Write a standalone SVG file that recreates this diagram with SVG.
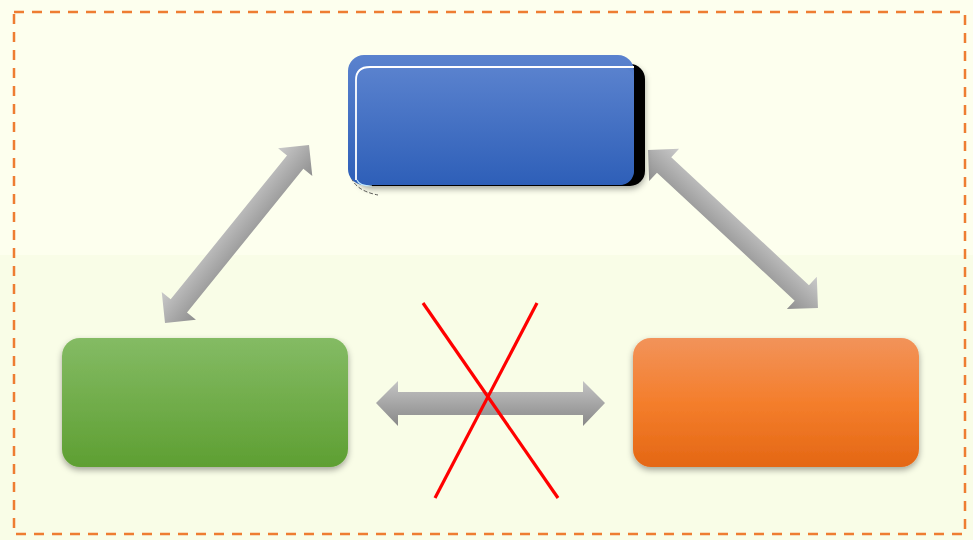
<svg xmlns="http://www.w3.org/2000/svg" width="973" height="540" viewBox="0 0 973 540">
<defs>
<style>
.arrow{fill:url(#ag)}
.hline{fill:url(#hg)}
.x{stroke:#FF0000;stroke-width:3.2;stroke-linecap:butt}
</style>
<linearGradient id="bg" x1="0" y1="0" x2="0" y2="1"><stop offset="0" stop-color="#5A82CE"/><stop offset="1" stop-color="#2E5FB8"/></linearGradient>
<linearGradient id="gg" x1="0" y1="0" x2="0" y2="1"><stop offset="0" stop-color="#84BB64"/><stop offset="1" stop-color="#5E9F32"/></linearGradient>
<linearGradient id="og" x1="0" y1="0" x2="0" y2="1"><stop offset="0" stop-color="#F2935A"/><stop offset="0.5" stop-color="#F47E2C"/><stop offset="1" stop-color="#E46714"/></linearGradient>
<linearGradient id="ag" x1="0" y1="0" x2="0" y2="1"><stop offset="0" stop-color="#CACACA"/><stop offset="1" stop-color="#8E8E8E"/></linearGradient>
<linearGradient id="hg" x1="0" y1="0" x2="0" y2="1"><stop offset="0" stop-color="#C4C4C4"/><stop offset="1" stop-color="#888888"/></linearGradient>
<filter id="sh" x="-10%" y="-10%" width="120%" height="130%"><feDropShadow dx="0" dy="3" stdDeviation="3" flood-color="#000" flood-opacity="0.35"/></filter>
</defs>
<rect x="0" y="0" width="973" height="540" fill="#FDFFEE"/>
<rect x="0" y="255" width="973" height="285" fill="#F9FDE7"/>
<rect x="14" y="12" width="951" height="522" fill="none" stroke="#EE7D32" stroke-width="2.5" stroke-dasharray="10,8"/>
<g id="connectors">
<polygon class="arrow" transform="translate(165,323) rotate(-51.03)" points="0,0 22,-22 22,-10.5 207,-10.5 207,-22 229,0 207,22 207,10.5 22,10.5 22,22"/>
<polygon class="arrow" transform="translate(648,150) rotate(42.9)" points="0,0 22,-22 22,-10.5 210,-10.5 210,-22 232,0 210,22 210,10.5 22,10.5 22,22"/>
<polygon class="hline" points="376,403 398,381 398,392 583,392 583,381 605,403 583,426 583,415 398,415 398,426"/>
<line class="x" x1="423" y1="303" x2="558" y2="498"/>
<line class="x" x1="537" y1="303" x2="435" y2="498"/>
</g>
<g id="node-top">
<path d="M350,172 Q352,190 378,195" fill="none" stroke="#333" stroke-width="0.8" stroke-dasharray="4,2"/>
<rect x="356" y="64" width="289" height="122" rx="15" fill="#000" filter="url(#sh)"/>
<rect x="348" y="55" width="286" height="130" rx="16" fill="url(#bg)"/>
<rect x="357" y="67" width="277" height="118" rx="14" fill="url(#bg)"/>
<path d="M356,180 L356,80 Q356,67 370,67 L634,67" fill="none" stroke="#FFFFFF" stroke-width="1.8"/>
<path d="M357,180 Q359,186 372,186" fill="none" stroke="#BFE8FF" stroke-width="1.2"/>
</g>
<g id="node-left">
<rect x="62" y="338" width="286" height="129" rx="18" fill="url(#gg)" filter="url(#sh)"/>
</g>
<g id="node-right">
<rect x="633" y="338" width="286" height="129" rx="18" fill="url(#og)" filter="url(#sh)"/>
</g>
</svg>
